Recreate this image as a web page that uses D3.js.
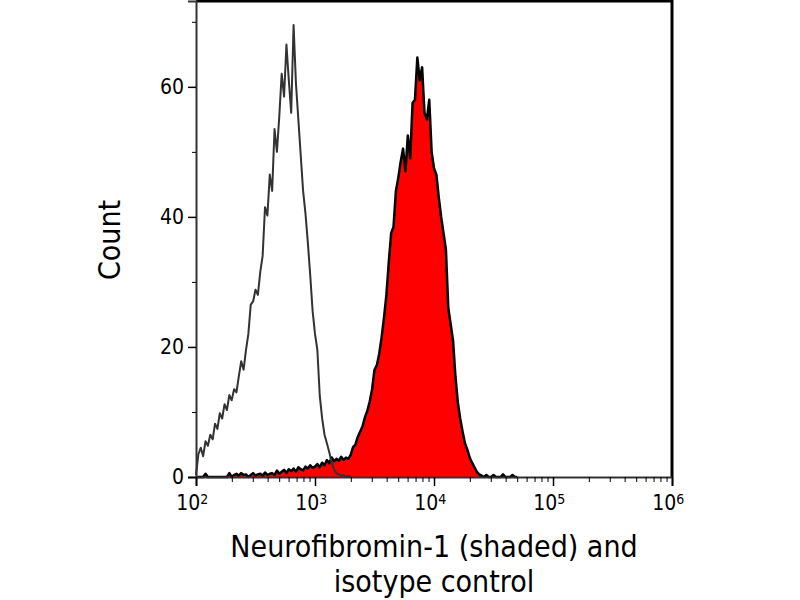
<!DOCTYPE html>
<html>
<head>
<meta charset="utf-8">
<script src="https://cdn.jsdelivr.net/npm/d3@7"></script>
<style>
  body { margin: 0; background: #fff; }
  svg text { font-family: "DejaVu Sans Condensed", "DejaVu Sans", sans-serif; fill: #000; }
</style>
</head>
<body>
<svg id="chart"></svg>
<script>
// ヒストグラムの生データ（log10チャネル、0.02刻み）
const channelStart = 2.0;
const channelStep = 0.02;

// アイソタイプコントロール（白抜き・灰色線）
const isotypeCounts = [
  0.3, 3.5, 4.5, 3.2, 5.5, 4.8, 6.5, 5.8, 8.2, 7.4,
  9.8, 9.0, 11.2, 10.3, 12.6, 11.8, 13.5, 13.0, 15.5, 17.8,
  16.5, 19.5, 22.0, 26.5, 27.0, 28.8, 28.0, 31.5, 34.0, 41.5,
  40.2, 46.5, 44.0, 53.5, 50.0, 55.5, 62.0, 58.5, 66.5, 61.0,
  56.0, 69.5, 60.5, 55.0, 49.5, 44.0, 40.5, 36.0, 31.0, 25.5,
  22.0, 19.5, 12.5, 9.0, 6.5, 5.2, 3.8, 2.2, 1.2, 0.6,
  0.4, 0.2, 0.3, 0.1, 0.2, 0
];

// Neurofibromin-1（赤塗り）
const nf1Counts = [
  0, 0, 0, 0, 0.5, 0, 0, 0, 0, 0,
  0, 0, 0, 0, 0.6, 0, 0.3, 0.5, 0.2, 0.6,
  0.3, 0.4, 0, 0.3, 0.6, 0.2, 0.4, 0.5, 0.2, 0.7,
  0.3, 0.5, 0.6, 0.3, 1.0, 0.5, 0.8, 1.1, 0.6, 1.2,
  0.9, 1.3, 0.8, 1.5, 1.2, 1.0, 1.6, 1.3, 1.8, 1.4,
  1.6, 2.0, 1.5, 2.2, 1.8, 2.6, 2.1, 3.0, 2.4, 2.8,
  2.5, 3.1, 2.6, 3.0, 2.8, 3.4, 4.6, 5.0, 6.2, 7.0,
  7.8, 9.2, 10.2, 11.6, 13.5, 16.5, 17.2, 19.0, 21.5, 24.5,
  28.0, 33.0, 37.5, 38.5, 44.0, 46.0, 48.5, 50.5, 47.0, 52.5,
  49.0, 57.5, 58.0, 64.5, 61.0, 63.0, 56.0, 55.0, 58.0, 50.0,
  47.5, 46.5, 43.0, 40.0, 37.5, 35.0, 26.0, 23.5, 21.0, 15.5,
  11.5, 9.0, 7.0, 5.2, 4.2, 3.0, 2.2, 1.5, 0.8, 0.4,
  0.2, 0, 0.3, 0, 0, 0.3, 0, 0, 0, 0.4,
  0, 0, 0, 0.3, 0, 0
];

const yMajorTicks = [0, 20, 40, 60];
const yMinorTicks = [10, 30, 50, 70];
const xDecadeExps = [2, 3, 4, 5, 6];
const xLabel = ["Neurofibromin-1 (shaded) and", "isotype control"];
const yLabel = "Count";

function drawChart() {
    const width = 800;
    const height = 600;
    const left = 196, right = 672, top = 1, bottom = 477;

    const svg = d3.select("#chart")
        .attr("width", width)
        .attr("height", height);

    const x = d3.scaleLog().domain([1e2, 1e6]).range([left, right]);
    const y = d3.scaleLinear().domain([0, 73.2]).range([bottom, top]);

    const toPoints = counts => counts.map((c, i) => ({
        v: Math.pow(10, channelStart + i * channelStep),
        c: c
    }));
    const isoData = toPoints(isotypeCounts);
    const nfData = toPoints(nf1Counts);

    const area = d3.area()
        .x(d => x(d.v))
        .y0(y(0))
        .y1(d => y(d.c));
    const line = d3.line()
        .x(d => x(d.v))
        .y(d => y(d.c));

    // 赤塗りヒストグラム
    svg.append("path")
        .datum(nfData)
        .attr("d", area)
        .attr("fill", "#ff0000");
    svg.append("path")
        .datum(nfData)
        .attr("d", line)
        .attr("fill", "none")
        .attr("stroke", "#000")
        .attr("stroke-width", 2.5)
        .attr("stroke-linejoin", "round");

    // アイソタイプ線
    svg.append("path")
        .datum(isoData)
        .attr("d", line)
        .attr("fill", "none")
        .attr("stroke", "#333")
        .attr("stroke-width", 2)
        .attr("stroke-linejoin", "round");

    // 上・右の枠
    svg.append("path")
        .attr("d", `M${left},${top}H${right}V${bottom}`)
        .attr("fill", "none")
        .attr("stroke", "#000")
        .attr("stroke-width", 3);

    // Y軸
    const yAxis = svg.append("g")
        .attr("transform", `translate(${left},0)`)
        .call(d3.axisLeft(y).tickValues(yMajorTicks).tickSize(8).tickPadding(4));
    svg.append("g")
        .attr("transform", `translate(${left},0)`)
        .call(d3.axisLeft(y).tickValues(yMinorTicks).tickSize(4).tickFormat(""))
        .select(".domain").remove();
    yAxis.select(".domain").attr("stroke", "#333").attr("stroke-width", 2);
    yAxis.selectAll(".tick line").attr("stroke-width", 1.5);
    yAxis.selectAll("text").attr("font-size", 21);

    // X軸（対数）
    const minorX = [];
    xDecadeExps.slice(0, -1).forEach(e => {
        for (let k = 2; k <= 9; k++) minorX.push(k * Math.pow(10, e));
    });
    const xAxis = svg.append("g")
        .attr("transform", `translate(0,${bottom})`)
        .call(d3.axisBottom(x)
            .tickValues(xDecadeExps.map(e => Math.pow(10, e)))
            .tickSize(9).tickPadding(9)
            .tickFormat(""));
    svg.append("g")
        .attr("transform", `translate(0,${bottom})`)
        .call(d3.axisBottom(x).tickValues(minorX).tickSize(5).tickFormat(""))
        .selectAll(".domain").remove();
    xAxis.select(".domain").attr("stroke", "#333").attr("stroke-width", 2);
    xAxis.selectAll(".tick line").attr("stroke-width", 1.5);

    xAxis.selectAll(".tick text")
        .attr("font-size", 21)
        .attr("dx", "-0.2em")
        .each(function(d) {
            const t = d3.select(this);
            t.text("10");
            t.append("tspan")
                .attr("dy", "-0.45em")
                .attr("font-size", 14)
                .text(Math.round(Math.log10(d)));
        });

    // 軸タイトル
    svg.append("text")
        .attr("transform", "translate(120,240) rotate(-90)")
        .attr("text-anchor", "middle")
        .attr("font-size", 30)
        .text(yLabel);

    svg.append("text")
        .attr("x", 434)
        .attr("y", 557)
        .attr("text-anchor", "middle")
        .attr("font-size", 30)
        .text(xLabel[0]);
    svg.append("text")
        .attr("x", 434)
        .attr("y", 592)
        .attr("text-anchor", "middle")
        .attr("font-size", 30)
        .text(xLabel[1]);
}

if (typeof d3 !== 'undefined') {
    drawChart();
} else {
    console.error("D3.jsが読み込まれていません");
}
</script>
</body>
</html>
